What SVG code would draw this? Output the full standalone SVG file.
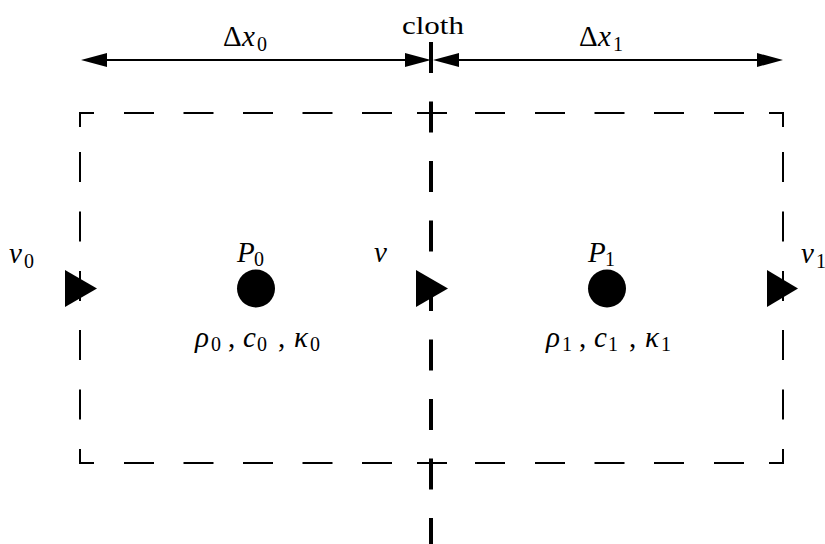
<svg xmlns="http://www.w3.org/2000/svg" width="825" height="544" viewBox="0 0 825 544">
<style>
.m{font-family:"Liberation Serif","Times New Roman",serif;font-style:italic;font-size:29px;fill:#000}
.up{font-style:normal}
.s{font-style:normal;font-size:20px}
.t{font-family:"Liberation Serif","Times New Roman",serif;font-size:25px;fill:#000}
.dash{fill:none;stroke:#000;stroke-width:2;stroke-linecap:butt;stroke-linejoin:miter}
.cloth{stroke:#000;stroke-width:4;stroke-dasharray:31 28.5}
.dim{stroke:#000;stroke-width:2}
.tri{fill:#000}
</style>
<defs>
<marker id="ah" viewBox="0 0 26 14" refX="0" refY="7" markerWidth="26" markerHeight="14" markerUnits="userSpaceOnUse" orient="auto-start-reverse" overflow="visible">
<path d="M0,0 L26,7 L0,14 z" fill="#000"/>
</marker>
</defs>

<g id="cells-boundary">
<path class="dash" d="M80,127V113H94 M124,113H154 M183.5,113H213.5 M243,113H273 M302.5,113H332.5 M362,113H392 M417,113H447 M475,113H505 M535,113H565 M594.5,113H624.5 M654,113H684 M714,113H744 M769,113H783V127
M80,152V182 M80,211.5V241.5 M80,271V301 M80,330V360 M80,389.5V419.5 M80,449V463H94
M783,152V182 M783,211.5V241.5 M783,271V301 M783,330V360 M783,389.5V419.5 M783,449V463H769
M124,463H154 M183.5,463H213.5 M243,463H273 M302.5,463H332.5 M362,463H392 M417,463H447 M475,463H505 M535,463H565 M594.5,463H624.5 M654,463H684 M714,463H744"/>
</g>

<g id="cloth">
<line class="cloth" x1="431" y1="42" x2="431" y2="544"/>
<text class="t" x="433" y="34" text-anchor="middle" textLength="62" lengthAdjust="spacingAndGlyphs">cloth</text>
</g>

<g id="connectors">
<line class="dim" x1="107" y1="60" x2="405" y2="60" marker-start="url(#ah)" marker-end="url(#ah)"/>
<line class="dim" x1="459" y1="60" x2="757" y2="60" marker-start="url(#ah)" marker-end="url(#ah)"/>
<text class="m"><tspan class="up" x="223" y="46">Δ</tspan><tspan x="242" y="46">x</tspan><tspan class="s" x="257" y="51">0</tspan></text>
<text class="m"><tspan class="up" x="579" y="46">Δ</tspan><tspan x="598" y="46">x</tspan><tspan class="s" x="613" y="51">1</tspan></text>
</g>

<g id="face-v0">
<polygon class="tri" points="65,270 65,307 97,288.5"/>
<text class="m"><tspan x="9" y="263">v</tspan><tspan class="s" x="24" y="268">0</tspan></text>
</g>

<g id="face-v">
<polygon class="tri" points="416,270 416,307 448,288.5"/>
<text class="m" x="374" y="262">v</text>
</g>

<g id="face-v1">
<polygon class="tri" points="767,270 767,307 798,288.5"/>
<text class="m"><tspan x="801" y="263">v</tspan><tspan class="s" x="816" y="268">1</tspan></text>
</g>

<g id="cell-P0">
<circle cx="256" cy="288.5" r="19" fill="#000"/>
<text class="m"><tspan x="237" y="262">P</tspan><tspan class="s" x="254" y="266">0</tspan></text>
<text class="m"><tspan x="195" y="347">ρ</tspan><tspan class="s" x="211" y="351">0</tspan><tspan class="up" x="228" y="347">,</tspan><tspan x="243" y="347">c</tspan><tspan class="s" x="257" y="351">0</tspan><tspan class="up" x="278" y="347">,</tspan><tspan x="294" y="347">κ</tspan><tspan class="s" x="310" y="351">0</tspan></text>
</g>

<g id="cell-P1">
<circle cx="607" cy="288.5" r="19" fill="#000"/>
<text class="m"><tspan x="588" y="262">P</tspan><tspan class="s" x="605" y="266">1</tspan></text>
<text class="m"><tspan x="546" y="347">ρ</tspan><tspan class="s" x="562" y="351">1</tspan><tspan class="up" x="579" y="347">,</tspan><tspan x="594" y="347">c</tspan><tspan class="s" x="608" y="351">1</tspan><tspan class="up" x="629" y="347">,</tspan><tspan x="645" y="347">κ</tspan><tspan class="s" x="661" y="351">1</tspan></text>
</g>
</svg>
